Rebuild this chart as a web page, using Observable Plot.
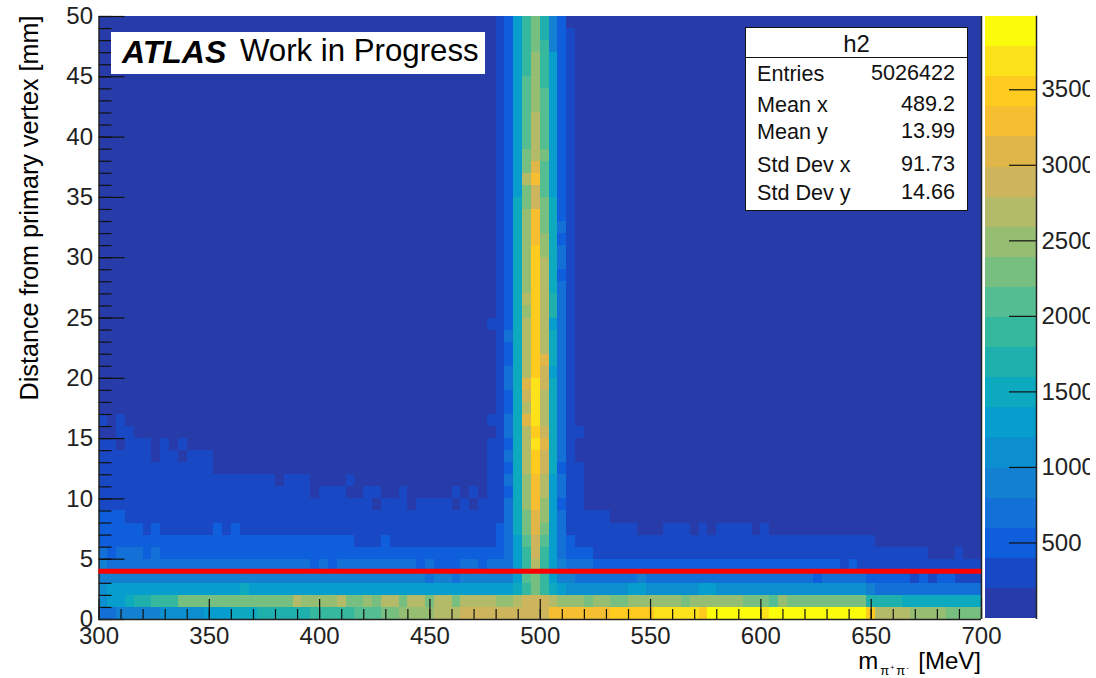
<!DOCTYPE html>
<html><head><meta charset="utf-8">
<script src="https://cdn.jsdelivr.net/npm/d3@7"></script>
<script src="https://cdn.jsdelivr.net/npm/@observablehq/plot@0.6"></script>
<style>
html,body{margin:0;padding:0;background:#fff;overflow:hidden}
#page{position:relative;width:1096px;height:678px;font-family:"Liberation Sans",Arial,sans-serif;color:#000;overflow:hidden}
#main,#bar{position:absolute;top:0}
#main{left:0}#bar{left:985px}
.abs{position:absolute;white-space:nowrap;line-height:1}
#atlas{left:111px;top:32px;width:374px;height:42px;background:#fff;font-size:31px}
#atlas b{position:absolute;left:11px;top:4px;font-style:italic;font-size:32px}
#atlas span{position:absolute;left:129px;top:3px;font-size:31.2px}
#stats{left:745px;top:27px;width:221px;height:182px;background:#fff;border:1.5px solid #111;font-size:21.6px;color:#111}
#stats .t{position:absolute;left:0;right:0;top:0;height:29px;border-bottom:1.5px solid #111;text-align:center;font-size:24px;line-height:31px}
#stats .k{position:absolute;left:11px}#stats .v{position:absolute;right:12px}
#ylab{left:30px;top:208px;font-size:25.2px;transform:translate(-50%,-50%) rotate(-90deg)}
#xlab{right:115px;top:649px;font-size:24px}
#xlab sub{font-size:13px;line-height:0;vertical-align:-6px;margin:0 1px 0 2px}
#xlab sub sup{font-size:7px;line-height:0;vertical-align:5px;margin:0 2px 0 1px}
</style></head><body>
<div id="page"><div id="main"></div><div id="bar"></div>
<div class="abs" id="atlas"><b>ATLAS</b><span>Work in Progress</span></div>
<div class="abs" id="stats"></div>
<div class="abs" id="ylab">Distance from primary vertex [mm]</div>
<div class="abs" id="xlab">m<sub>&#960;<sup>+</sup>&#960;<sup>-</sup></sub> [MeV]</div>
</div>
<script>
const xRange = [300, 700];
const yRange = [0, 50];
const binWidthX = 4;
const binWidthY = 1;
const zMax = 3985;
const palette = ["#273ca9","#1848c4","#0f5fdc","#1270d7","#1380d2","#0c8fcf","#079dcc","#0da9bf","#1fb0ae","#36b89e",
  "#54bd92","#76bf80","#96be72","#b3bb68","#ccb55c","#e0b649","#f5bf31","#ffcb1f","#fce21a","#fbfc0b"];
const zTicks = [500,1000,1500,2000,2500,3000,3500];
const xMajor = [300,350,400,450,500,550,600,650,700];
const yMajor = [0,5,10,15,20,25,30,35,40,45,50];
const statsTitle = "h2";
const statsRows = [["Entries","5026422",74],["Mean x","489.2",105],["Mean y","13.99",132],["Std Dev x","91.73",165],["Std Dev y","14.66",193]];
const cutY = 4;

// colour-level read per mm row: [first bin, level], each run lasting to the next one
const rowRuns = {
 0:[[0,3],[2,4],[7,5],[12,6],[15,7],[18,8],[24,9],[29,10],[32,11],[34,12],[38,13],[41,14],[54,16],[58,17],[63,18],[68,17],[69,19],[75,18],[76,19],[87,17],[88,13],[92,12],[96,11]],
 1:[[0,5],[1,6],[3,7],[4,8],[6,9],[9,11],[22,13],[23,12],[27,13],[28,11],[30,12],[31,11],[32,13],[34,11],[35,13],[37,11],[38,13],[40,11],[41,13],[54,12],[55,11],[56,12],[58,11],[60,12],[66,11],[67,12],[73,11],[76,10],[77,12],[78,11],[87,8],[91,7]],
 2:[[0,5],[1,6],[16,7],[17,6],[54,5],[60,6],[62,5],[68,6],[70,5],[87,4],[88,3]],
 3:[[0,4],[37,3],[38,4],[40,3],[41,4],[54,3],[61,4],[62,3],[81,2],[82,3],[87,2],[92,1],[93,2],[94,1],[95,2],[97,1]],
 4:[[0,4],[1,3],[24,2],[25,3],[26,2],[27,3],[36,2],[37,3],[38,2],[41,3],[43,2],[44,3],[54,3],[56,2],[84,1],[85,2],[86,1]],
 5:[[0,3],[1,2],[2,3],[5,2],[6,3],[7,2],[54,2],[56,1],[94,0],[97,1],[98,0]],
 6:[[0,2],[29,1],[32,2],[33,1],[54,1],[88,0]],
 7:[[0,2],[5,1],[6,2],[7,1],[13,2],[14,1],[15,2],[16,1],[54,1],[61,0],[64,1],[67,0],[68,1],[69,0],[70,1],[74,0],[75,1],[76,0]],
 8:[[0,2],[3,1],[54,1],[58,0]],
 9:[[0,1],[31,0],[32,1],[35,0],[36,1],[40,0],[41,1],[42,0],[43,1],[54,1],[55,0]],
 10:[[0,1],[24,0],[25,1],[28,0],[30,1],[32,0],[34,1],[35,0],[40,1],[41,0],[42,1],[43,0],[44,1],[54,1],[55,0]],
 11:[[0,1],[20,0],[21,1],[24,0],[28,1],[29,0],[44,1],[54,1],[55,0]],
 12:[[0,1],[13,0],[44,1],[54,1],[55,0]],
 13:[[0,1],[6,0],[7,1],[9,0],[10,1],[13,0],[44,1],[54,0]],
 14:[[0,1],[2,0],[3,1],[6,0],[7,1],[8,0],[9,1],[10,0],[44,1],[54,0]],
 15:[[0,0],[2,1],[4,0],[54,1],[55,0]],
 16:[[0,1],[1,0],[2,1],[3,0],[44,1],[54,0]],
 24:[[0,0],[44,1],[54,0]]
};
// levels of bins 45..53 (the K-short peak), row 0 first
const peakFirstBin = 45;
const peakRows = [
 [14,14,14,14,14,14,16,16,16],[12,12,13,14,14,14,13,12,12],[6,6,7,9,11,9,7,6,5],[4,4,6,10,11,9,6,4,4],[3,3,6,9,13,9,6,4,3],
 [2,3,6,9,14,9,6,3,2],[2,3,6,10,14,10,6,3,2],[2,3,7,11,15,11,6,3,1],[1,3,7,11,15,12,6,3,1],[1,3,7,12,16,12,6,2,1],
 [1,2,7,12,16,13,6,3,1],[1,3,7,12,16,13,6,3,1],[1,2,7,13,17,14,7,2,1],[1,3,7,13,17,14,7,3,1],[1,2,7,13,18,15,7,3,1],
 [1,3,7,13,17,14,7,3,1],[1,3,7,15,18,13,7,3,1],[1,2,7,13,18,13,7,3,1],[1,2,7,14,18,13,7,3,1],[1,3,7,15,18,14,7,3,1],
 [1,3,7,13,17,14,6,3,1],[1,2,7,13,17,15,7,3,1],[1,2,7,13,17,13,7,3,1],[1,3,7,13,17,13,7,3,1],[1,2,7,13,17,13,6,3,1],
 [1,2,7,12,17,13,8,3,1],[1,2,7,13,17,13,8,3,1],[1,2,7,12,17,13,7,3,1],[1,2,7,12,17,13,7,2,1],[1,2,7,12,17,13,7,3,1],
 [1,2,7,12,17,12,7,3,1],[1,2,7,12,16,12,7,2,1],[1,2,7,12,16,11,7,3,1],[1,2,7,12,16,11,7,2,1],[1,2,7,11,14,11,7,2,1],
 [1,2,6,11,14,10,6,2,1],[1,2,6,13,16,10,6,2,1],[1,2,6,11,15,10,6,2,1],[1,2,6,11,13,11,6,2,1],[1,2,6,10,13,10,6,2,1],
 [1,2,6,10,13,10,6,2,1],[1,2,6,10,13,10,6,2,1],[1,2,6,10,12,10,6,2,1],[1,2,6,10,12,10,6,2,1],[1,2,6,10,12,9,6,2,1],
 [1,2,6,9,12,9,6,2,1],[1,2,6,9,12,9,6,2,1],[1,2,6,9,11,9,4,2,1],[1,2,6,9,11,8,4,2,1],[1,2,6,9,11,8,4,2,0]
];

const zStep = zMax / palette.length;
const zEdges = palette.slice(1).map((_, i) => (i + 1) * zStep);
const nx = (xRange[1] - xRange[0]) / binWidthX, ny = (yRange[1] - yRange[0]) / binWidthY;
const cells = [];
for (let r = 0; r < ny; r++) {
  const runs = rowRuns[r] || [[0,0]];
  for (let b = 0; b < nx; b++) {
    let lvl = 0;
    for (const [s, l] of runs) if (s <= b) lvl = l;
    if (b >= peakFirstBin && b < peakFirstBin + peakRows[r].length) lvl = peakRows[r][b - peakFirstBin];
    cells.push({x1: xRange[0] + b * binWidthX, x2: xRange[0] + (b + 1) * binWidthX, y1: r * binWidthY, y2: (r + 1) * binWidthY, z: (lvl + 0.5) * zStep});
  }
}
const colorOpt = {type: "threshold", domain: zEdges, range: palette};
const axisFont = {fontSize: 24, tickFormat: d => String(d), label: null};
const fmt = {fontFamily: '"Liberation Sans",Arial,sans-serif'};

const main = Plot.plot({
  width: 1096, height: 650, marginLeft: 98.5, marginRight: 115, marginTop: 16, marginBottom: 31,
  style: {background: "transparent", fontFamily: fmt.fontFamily, overflow: "visible"},
  x: {domain: xRange}, y: {domain: yRange}, color: colorOpt,
  marks: [
    Plot.rect(cells, {x1: "x1", x2: "x2", y1: "y1", y2: "y2", fill: "z", shapeRendering: "crispEdges"}),
    Plot.axisX({ticks: d3.range(300, 701, 10), tickSize: -10, text: null, label: null, strokeWidth: 1.2, stroke: "#111"}),
    Plot.axisX({ticks: xMajor, tickSize: -20, text: null, label: null, strokeWidth: 1.2, stroke: "#111"}),
    Plot.axisX({ticks: xMajor, tickSize: 0, tickPadding: 7, color: "#222", ...axisFont}),
    Plot.axisY({ticks: d3.range(0, 51, 1), tickSize: -13, text: null, label: null, strokeWidth: 1.2, stroke: "#111"}),
    Plot.axisY({ticks: yMajor, tickSize: -26, text: null, label: null, strokeWidth: 1.2, stroke: "#111"}),
    Plot.axisY({ticks: yMajor, tickSize: 0, tickPadding: 6, color: "#222", ...axisFont}),
    Plot.ruleX(xRange, {stroke: "#222", strokeWidth: 1.5}),
    Plot.ruleY([yRange[0]], {stroke: "#222", strokeWidth: 1.5}),
    Plot.ruleY([cutY], {stroke: "#ff0000", strokeWidth: 5})
  ]
});
document.getElementById("main").append(main);

const barLevels = palette.map((c, i) => ({y1: i * zStep, y2: (i + 1) * zStep, z: (i + 0.5) * zStep}));
const bar = Plot.plot({
  width: 105, height: 619, marginLeft: 0, marginRight: 54, marginTop: 16, marginBottom: 1,
  style: {background: "transparent", fontFamily: fmt.fontFamily, overflow: "hidden"},
  y: {domain: [0, zMax]}, color: colorOpt,
  marks: [
    Plot.rect(barLevels, {y1: "y1", y2: "y2", fill: "z", shapeRendering: "crispEdges"}),
    Plot.axisY({anchor: "right", ticks: zTicks, tickSize: -28, text: null, label: null, strokeWidth: 1.2, stroke: "#111"}),
    Plot.axisY({anchor: "right", ticks: zTicks, tickSize: 0, tickPadding: 5, color: "#222", ...axisFont}),
    Plot.frame({anchor: "right", stroke: "#222", strokeWidth: 1.5})
  ]
});
document.getElementById("bar").append(bar);

const st = document.getElementById("stats");
const add = (cls, txt, top) => { const d = document.createElement("div"); d.className = cls; d.textContent = txt; if (top !== null) d.style.top = top + "px"; st.append(d); };
add("t", statsTitle, null);
for (const [k, v, yc] of statsRows) { add("k", k, yc - 27 - 12); add("v", v, yc - 27 - 13); }
</script></body></html>
